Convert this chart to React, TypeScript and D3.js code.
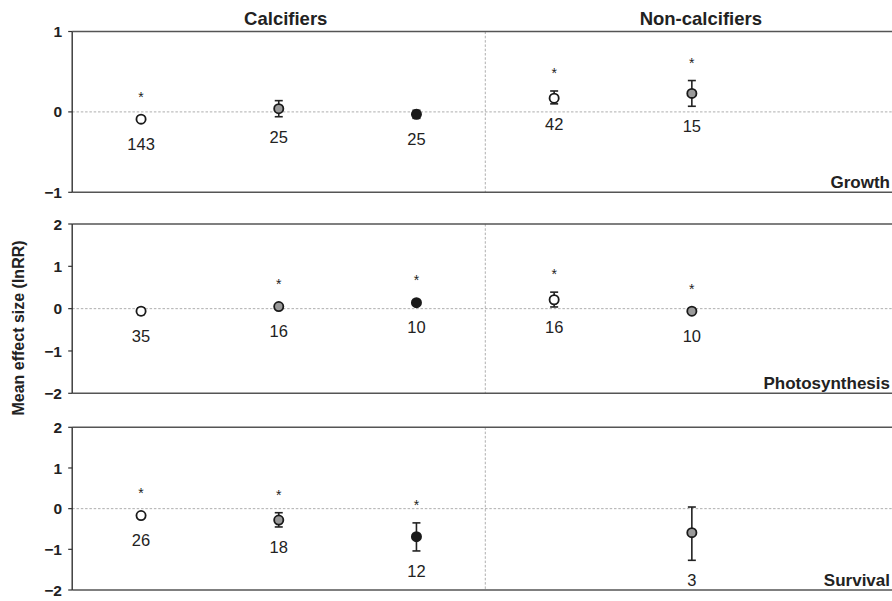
import React from "react";
import * as d3 from "d3";

// ---- Data ----
const groups = ["Calcifiers", "Non-calcifiers"];
const slots = [0, 1, 2, 3, 4, 5];
const panelNames = ["Growth", "Photosynthesis", "Survival"];
const panelDomains: [number, number][] = [[-1, 1], [-2, 2], [-2, 2]];
const panelTicks = [[-1, 0, 1], [-2, -1, 0, 1, 2], [-2, -1, 0, 1, 2]];

// Growth
const growthSlot = [0, 1, 2, 3, 4];
const growthFill = ["open", "gray", "black", "open", "gray"];
const growthMean = [-0.09, 0.04, -0.03, 0.17, 0.23];
const growthLow = [-0.09, -0.06, -0.08, 0.1, 0.07];
const growthHigh = [-0.09, 0.14, 0.02, 0.26, 0.39];
const growthN = [143, 25, 25, 42, 15];
const growthSig = [true, false, false, true, true];

// Photosynthesis
const photoSlot = [0, 1, 2, 3, 4];
const photoFill = ["open", "gray", "black", "open", "gray"];
const photoMean = [-0.06, 0.05, 0.14, 0.21, -0.06];
const photoLow = [-0.14, 0.05, 0.14, 0.04, -0.06];
const photoHigh = [0.02, 0.05, 0.14, 0.39, -0.06];
const photoN = [35, 16, 10, 16, 10];
const photoSig = [false, true, true, true, true];

// Survival
const survSlot = [0, 1, 2, 4];
const survFill = ["open", "gray", "black", "gray"];
const survMean = [-0.17, -0.28, -0.69, -0.59];
const survLow = [-0.17, -0.45, -1.04, -1.27];
const survHigh = [-0.17, -0.1, -0.35, 0.04];
const survN = [26, 18, 12, 3];
const survSig = [true, true, true, false];

const panelData = [
  { slot: growthSlot, fill: growthFill, mean: growthMean, low: growthLow, high: growthHigh, n: growthN, sig: growthSig },
  { slot: photoSlot, fill: photoFill, mean: photoMean, low: photoLow, high: photoHigh, n: photoN, sig: photoSig },
  { slot: survSlot, fill: survFill, mean: survMean, low: survLow, high: survHigh, n: survN, sig: survSig },
];

// ---- Layout ----
const W = 892;
const H = 601;
const left = 72.2;
const right = 898.4;
const panelBox = [
  [31.5, 192.3],
  [224, 393.3],
  [427.3, 590],
];
const fillColor: Record<string, string> = { open: "#ffffff", gray: "#9a9a9a", black: "#1a1a1a" };
const font = "'Liberation Sans', Arial, Helvetica, sans-serif";
const R = 4.6;

export default function App() {
  const x = d3.scaleBand<number>().domain(slots).range([left, right]).paddingInner(0).paddingOuter(0);
  const cx = (s: number) => (x(s) as number) + x.bandwidth() / 2;
  const divider = x(3) as number;

  return (
    <svg width={W} height={H} style={{ position: "absolute", left: 0, top: 0, background: "#fff" }} fontFamily={font}>
      {/* group headers */}
      <text x={cx(1) + 7} y={24.5} textAnchor="middle" fontSize={18.5} fontWeight="bold" fill="#222">{groups[0]}</text>
      <text x={cx(4) + 9} y={24.5} textAnchor="middle" fontSize={18.5} fontWeight="bold" fill="#222">{groups[1]}</text>

      {/* y axis title */}
      <text transform={`translate(23.5,328) rotate(-90)`} textAnchor="middle" fontSize={16} fontWeight="bold" fill="#222">
        Mean effect size (lnRR)
      </text>

      {panelNames.map((name, pi) => {
        const [top, bottom] = panelBox[pi];
        const y = d3.scaleLinear().domain(panelDomains[pi]).range([bottom, top]);
        const d = panelData[pi];
        return (
          <g key={name}>
            {/* zero line */}
            <line x1={left} x2={right} y1={y(0)} y2={y(0)} stroke="#9a9a9a" strokeWidth={0.8} strokeDasharray="2.5,1.8" />
            {/* divider */}
            <line x1={divider} x2={divider} y1={top} y2={bottom} stroke="#9a9a9a" strokeWidth={0.8} strokeDasharray="2.5,1.8" />
            {/* frame lines */}
            <line x1={left} x2={right} y1={top} y2={top} stroke="#555" strokeWidth={1.6} />
            <line x1={left} x2={right} y1={bottom} y2={bottom} stroke="#555" strokeWidth={1.6} />
            <line x1={left} x2={left} y1={top} y2={bottom} stroke="#333" strokeWidth={1.4} />
            {/* ticks */}
            {panelTicks[pi].map((t) => (
              <g key={t}>
                <line x1={left - 4} x2={left} y1={y(t)} y2={y(t)} stroke="#333" strokeWidth={1.2} />
                <text x={62} y={y(t)} dy="0.36em" textAnchor="end" fontSize={15.5} fontWeight="bold" fill="#222">
                  {t < 0 ? `\u2212${Math.abs(t)}` : `${t}`}
                </text>
              </g>
            ))}
            {/* panel label */}
            <text x={890} y={bottom - 4.5} textAnchor="end" fontSize={17} fontWeight="bold" fill="#222">{name}</text>
            {/* points */}
            {d.mean.map((m, i) => {
              const px = cx(d.slot[i]);
              const py = y(m);
              const yl = y(d.low[i]);
              const yh = y(d.high[i]);
              const topPx = Math.min(yh, py - R);
              const botPx = Math.max(yl, py + R);
              const showBar = yl - yh > 0.5;
              return (
                <g key={i}>
                  {showBar && (
                    <g stroke="#222" strokeWidth={1.6}>
                      <line x1={px} x2={px} y1={yh} y2={yl} />
                      <line x1={px - 4} x2={px + 4} y1={yh} y2={yh} />
                      <line x1={px - 4} x2={px + 4} y1={yl} y2={yl} />
                    </g>
                  )}
                  <circle cx={px} cy={py} r={R} fill={fillColor[d.fill[i]]} stroke="#1a1a1a" strokeWidth={1.8} />
                  {d.sig[i] && (
                    <text x={px} y={topPx - 13} textAnchor="middle" fontSize={14} fill="#222">*</text>
                  )}
                  <text x={px} y={botPx + 26} textAnchor="middle" fontSize={16.5} fill="#222">{d.n[i]}</text>
                </g>
              );
            })}
          </g>
        );
      })}
    </svg>
  );
}
